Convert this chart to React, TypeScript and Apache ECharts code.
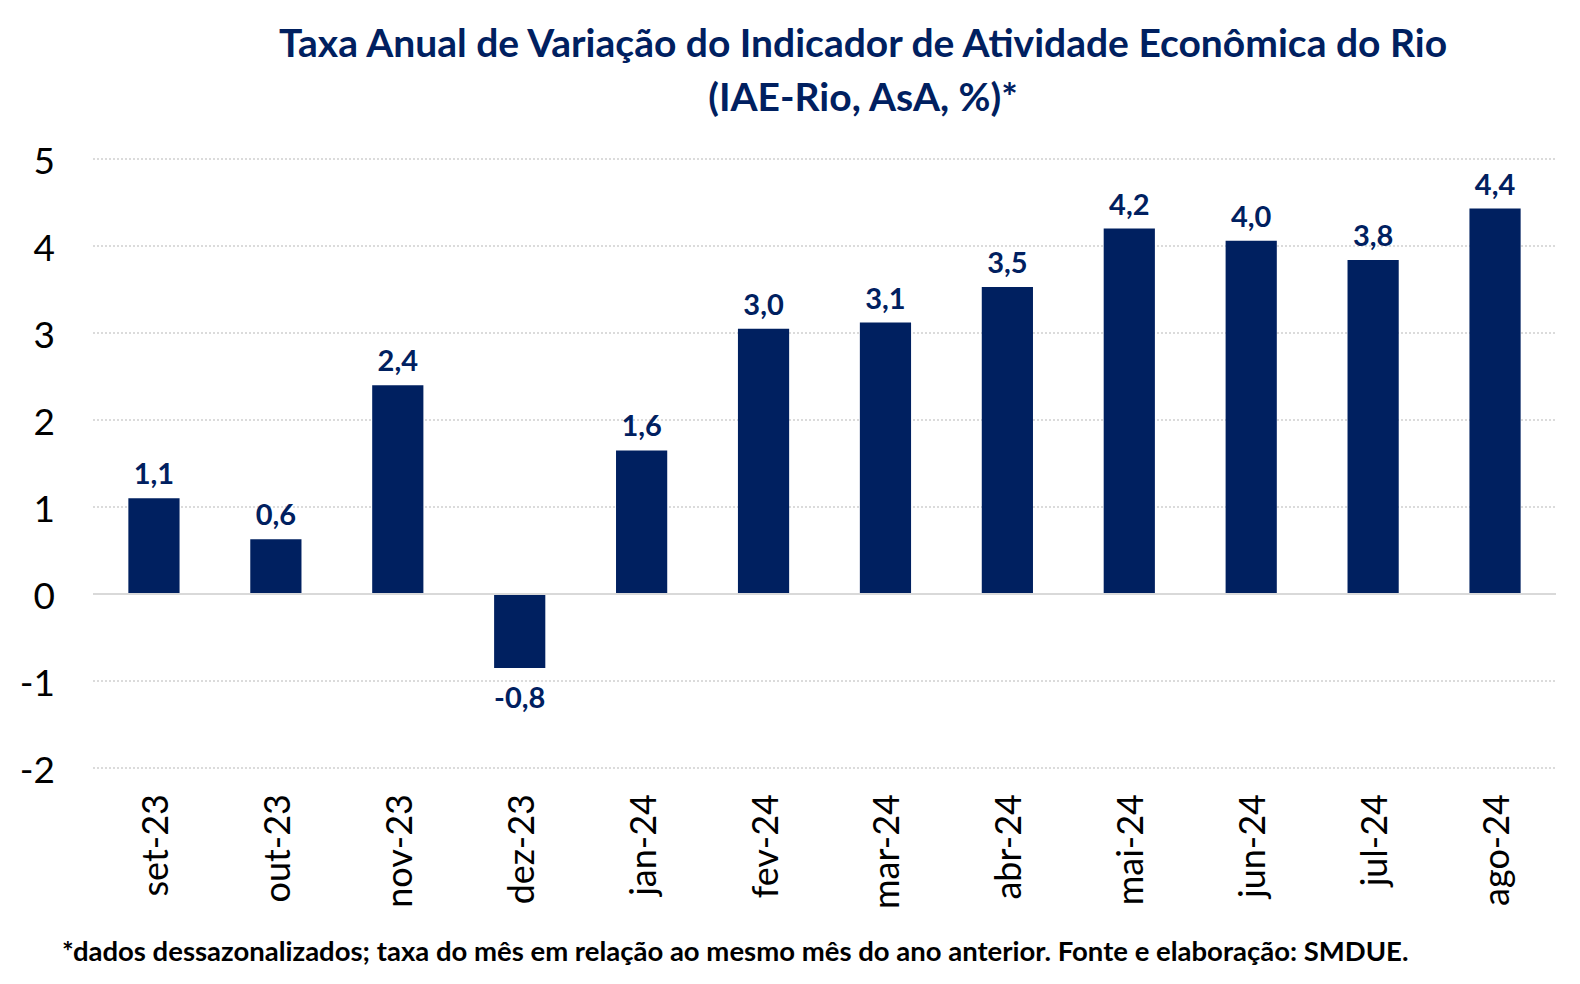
import React, { useEffect, useRef } from "react";
import * as echarts from "echarts";

const categories = ["set-23", "out-23", "nov-23", "dez-23", "jan-24", "fev-24", "mar-24", "abr-24", "mai-24", "jun-24", "jul-24", "ago-24"];
const values = [1.1, 0.63, 2.4, -0.85, 1.65, 3.05, 3.12, 3.53, 4.2, 4.06, 3.84, 4.43];
const valueLabels = ["1,1", "0,6", "2,4", "-0,8", "1,6", "3,0", "3,1", "3,5", "4,2", "4,0", "3,8", "4,4"];
const titleLines = ["Taxa Anual de Variação do Indicador de Atividade Econômica do Rio", "(IAE-Rio, AsA, %)*"];
const footnote = "*dados dessazonalizados; taxa do mês em relação ao mesmo mês do ano anterior. Fonte e elaboração: SMDUE.";

const NAVY = "#002060";
const FONT = "Lato, 'Open Sans', sans-serif";

export default function App() {
  const ref = useRef<HTMLDivElement>(null);
  useEffect(() => {
    document.body.style.margin = "0";
    const chart = echarts.init(ref.current!, null, { renderer: "svg" });
    chart.setOption({
      animation: false,
      backgroundColor: "#ffffff",
      title: {
        text: titleLines.join("\n"),
        left: 858,
        top: 10,
        textAlign: "center",
        textStyle: { color: NAVY, fontFamily: FONT, fontWeight: "bold", fontSize: 39, lineHeight: 54 },
      },
      graphic: [
        {
          type: "text",
          left: 62,
          top: 936,
          style: { text: footnote, fill: "#000", font: `bold 27.5px ${FONT}` },
        },
      ],
      grid: { left: 93, right: 24, top: 159, bottom: 216, containLabel: false },
      xAxis: {
        type: "category",
        data: categories,
        position: "bottom",
        axisLine: { show: false, onZero: false },
        axisTick: { show: false },
        axisLabel: { rotate: 90, margin: 26, color: "#000", fontFamily: FONT, fontSize: 36 },
      },
      yAxis: {
        type: "value",
        min: -2,
        max: 5,
        interval: 1,
        axisLine: { show: false },
        axisTick: { show: false },
        axisLabel: { color: "#000", fontFamily: FONT, fontSize: 37, margin: 38 },
        splitLine: { lineStyle: { color: "#cfcfcf", type: [2, 2], width: 1.5 } },
      },
      series: [
        {
          type: "bar",
          data: values.map((v, i) => ({
            value: v,
            label: {
              show: true,
              position: v < 0 ? "bottom" : "top",
              formatter: valueLabels[i],
              distance: v < 0 ? 14 : 11,
            },
          })),
          barWidth: "42%",
          itemStyle: { color: NAVY },
          label: { color: NAVY, fontFamily: FONT, fontWeight: "bold", fontSize: 29 },
          markLine: {
            silent: true,
            symbol: "none",
            label: { show: false },
            lineStyle: { color: "#d9d9d9", type: "solid", width: 2 },
            data: [{ yAxis: 0 }],
          },
        },
      ],
    });
    return () => chart.dispose();
  }, []);
  return <div ref={ref} style={{ width: 1580, height: 984 }} />;
}
